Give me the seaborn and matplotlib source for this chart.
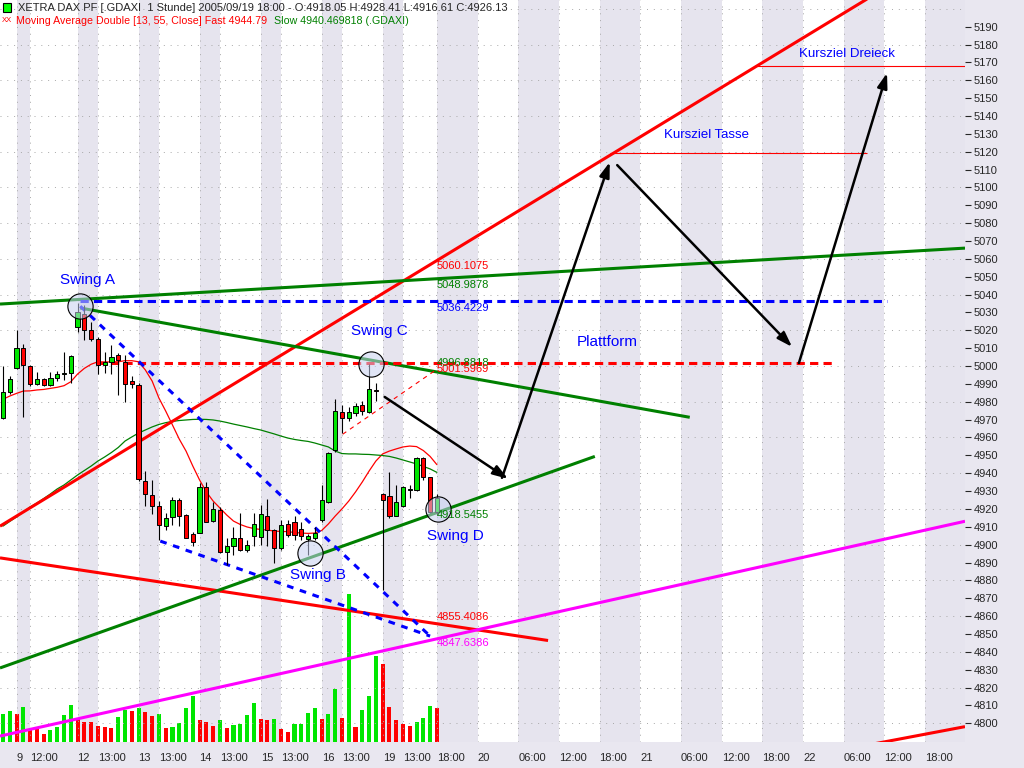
import numpy as np
import pandas as pd
import matplotlib
matplotlib.use("Agg")
import matplotlib.pyplot as plt
from matplotlib.patches import Rectangle
import seaborn as sns

sns.set_style("white")
plt.rcParams['font.family'] = ['Liberation Sans', 'DejaVu Sans']

# hourly DAX bars, bar index 0..64 (2005/09/08 17:00 .. 2005/09/19 18:00)
opens = [4971.0, 4985.7, 4998.9, 5010.0, 5000.1, 4990.0, 4992.7, 4989.6, 4993.3, 4995.6,
         4996.0, 5022.0, 5029.0, 5020.2, 5015.2, 5000.7, 5002.2, 5006.3, 5002.5, 4991.4,
         4989.5, 4935.8, 4927.9, 4921.4, 4910.7, 4915.7, 4925.1, 4916.6, 4906.1, 4906.8,
         4932.3, 4913.5, 4919.4, 4895.9, 4899.0, 4903.7, 4897.1, 4904.9, 4904.2, 4916.2,
         4908.3, 4898.1, 4911.6, 4912.9, 4908.7, 4903.1, 4904.0, 4913.8, 4923.8, 4953.0,
         4974.0, 4970.9, 4973.7, 4978.1, 4974.0, 4986.8, 4928.5, 4927.4, 4916.1, 4921.9,
         4930.7, 4930.8, 4948.4, 4937.8, 4918.05]
highs = [4999.8, 4994.2, 5020.3, 5012.5, 5000.7, 4996.6, 4993.3, 4996.6, 4997.5, 5008.1,
         5006.0, 5035.4, 5034.0, 5024.7, 5016.0, 5007.9, 5011.8, 5007.2, 5006.3, 4994.2,
         4990.6, 4941.0, 4936.3, 4924.2, 4917.6, 4926.4, 4926.0, 4917.0, 4907.3, 4934.4,
         4934.8, 4924.1, 4921.3, 4903.7, 4909.6, 4917.6, 4902.7, 4917.6, 4922.2, 4925.5,
         4908.5, 4913.8, 4913.8, 4916.1, 4912.9, 4906.0, 4910.1, 4933.4, 4952.1, 4981.5,
         4978.3, 4976.9, 4979.3, 4980.2, 5001.4, 4990.5, 4929.0, 4940.4, 4933.5, 4932.6,
         4933.5, 4949.0, 4949.3, 4937.9, 4928.41]
lows = [4970.4, 4984.4, 4998.5, 4971.5, 4988.9, 4989.2, 4988.9, 4988.6, 4991.8, 4992.3,
        4990.5, 5019.0, 5014.6, 5014.0, 4995.7, 4996.2, 4995.7, 4984.0, 4979.6, 4987.6,
        4935.4, 4921.4, 4917.0, 4902.7, 4908.3, 4911.1, 4910.7, 4903.6, 4899.5, 4906.5,
        4912.5, 4912.4, 4895.3, 4888.8, 4894.0, 4896.2, 4896.0, 4899.0, 4899.9, 4899.0,
        4889.7, 4897.1, 4904.4, 4902.7, 4902.7, 4894.3, 4902.7, 4912.9, 4923.5, 4952.1,
        4962.5, 4969.4, 4971.8, 4972.7, 4973.7, 4980.7, 4874.7, 4914.8, 4915.8, 4921.0,
        4926.2, 4930.2, 4936.3, 4917.6, 4916.61]
closes = [4985.7, 4992.7, 5010.0, 5000.7, 4990.0, 4992.9, 4989.2, 4993.3, 4995.7, 4996.3,
          5005.7, 5030.0, 5020.0, 5015.2, 5000.7, 5002.2, 5005.0, 5003.5, 4990.0, 4990.0,
          4936.7, 4928.3, 4921.7, 4911.1, 4914.8, 4925.1, 4916.2, 4904.0, 4901.4, 4932.0,
          4912.6, 4919.8, 4895.9, 4899.0, 4903.7, 4897.1, 4899.9, 4911.6, 4917.0, 4908.3,
          4898.1, 4911.1, 4905.5, 4905.5, 4904.7, 4904.9, 4906.8, 4925.1, 4951.2, 4974.6,
          4970.9, 4974.0, 4977.8, 4974.6, 4987.2, 4986.3, 4924.8, 4915.8, 4923.9, 4932.0,
          4931.0, 4948.4, 4937.8, 4918.1, 4926.13]
volumes = [2830, 3100, 2830, 3530, 1200, 1270, 830, 1200, 1530, 2700,
           3700, 2370, 2030, 2030, 1600, 1530, 1430, 2530, 3200, 3100,
           3430, 3030, 2600, 2830, 1430, 1530, 1930, 3430, 4600, 2230,
           2030, 1600, 2200, 1430, 1700, 1770, 2700, 3930, 2330, 2230,
           2330, 1330, 1000, 1830, 1830, 2930, 3430, 2330, 2830, 5270,
           2430, 14830, 1530, 3200, 4600, 8600, 7830, 3500, 2230, 1830,
           1600, 2030, 2430, 3600, 3430]
vol_dir = "ggrgrrrggg" "grrrrrrggr" "grrgrggggr" "rrgrggggrr" "grrggggrgg" "rgrgggrrrr" "rgggr"

ma_fast = [4981.4, 4983.2, 4984.7, 4986.0, 4986.1, 4986.6, 4986.9, 4987.5, 4988.1, 4989.0,
           4991.2, 4995.5, 4998.7, 5001.0, 5002.4, 5002.3, 5002.3, 5002.4, 5003.0, 5003.0,
           5002.4, 4997.8, 4991.6, 4982.1, 4974.8, 4967.0, 4959.1, 4952.4, 4944.0, 4936.2,
           4929.5, 4924.4, 4920.5, 4916.6, 4913.2, 4911.3, 4909.9, 4909.0, 4908.5, 4908.2,
           4907.6, 4907.4, 4907.3, 4906.8, 4906.5, 4906.3, 4906.5, 4907.9, 4911.6, 4916.0,
           4920.0, 4924.4, 4929.5, 4935.1, 4941.2, 4946.8, 4950.8, 4952.4, 4953.6, 4954.7,
           4955.2, 4954.9, 4952.7, 4949.4, 4944.8]
ma_slow = [4910.4, 4913.0, 4915.5, 4918.3, 4921.1, 4923.3, 4925.8, 4928.4, 4931.2, 4933.4,
           4936.2, 4939.0, 4941.5, 4944.0, 4946.8, 4949.1, 4951.6, 4954.4, 4958.0, 4960.3,
           4962.5, 4964.2, 4965.9, 4967.3, 4968.3, 4969.0, 4969.5, 4969.8, 4970.1, 4970.2,
           4970.1, 4969.8, 4969.2, 4968.4, 4967.5, 4966.7, 4965.9, 4965.0, 4964.2, 4963.1,
           4962.0, 4960.8, 4959.7, 4958.9, 4958.3, 4957.8, 4956.9, 4955.8, 4954.7, 4952.4,
           4951.0, 4950.8, 4950.8, 4950.6, 4950.5, 4950.2, 4949.9, 4949.4, 4948.5, 4947.4,
           4946.3, 4945.2, 4943.8, 4942.4, 4940.47]

# x axis: bar index, future part goes on one bar per hour
tick_pos = [2, 4, 11, 14, 20, 23, 29, 32, 38, 41, 47, 50, 56, 59, 64,
            70, 76, 82, 88, 94, 100, 106, 112, 118, 124, 130, 136]
tick_lbl = ["9", "12:00", "12", "13:00", "13", "13:00", "14", "13:00", "15", "13:00",
            "16", "13:00", "19", "13:00", "18:00", "20", "06:00", "12:00", "18:00",
            "21", "06:00", "12:00", "18:00", "22", "06:00", "12:00", "18:00"]

# drawn trend lines: (bar start, price start, bar end, price end)
red_channel = (-0.44, 4910.35, 130.0, 5211.4)
red_falling = (-0.44, 4892.59, 80.4, 4846.33)
red_bottom = (127.0, 4787.4, 141.9, 4798.1)
green_top = (-0.44, 5034.71, 141.9, 5066.03)
green_falling = (11.4, 5032.5, 101.3, 4971.3)
green_rising = (-0.44, 4830.95, 87.3, 4949.4)
magenta_rising = (-0.44, 4792.81, 141.9, 4913.09)
blue_level = (11.4, 5036.42, 130.4, 5036.42)
plattform = (13.9, 5001.60, 122.4, 5001.60)
wedge_upper = (11.4, 5033.5, 63.0, 4848.8)
wedge_lower = (23.2, 4902.0, 63.0, 4848.8)
swing_c_support = (50.1, 4961.8, 64.0, 4998.2)
target_tasse = (89.5, 5119.1, 127.4, 5119.1)
target_dreieck = (111.2, 5168.0, 141.9, 5168.0)

# forecast path (arrows)
arrow_from = [(56.3, 4982.7), (73.6, 4937.4), (90.6, 5112.5), (117.4, 5001.7)]
arrow_to = [(74.5, 4936.8), (89.5, 5114.2), (116.4, 5010.7), (130.4, 5164.1)]

# swing points
swing_x = [11.4, 45.3, 54.3, 64.2]
swing_p = [5033.5, 4895.3, 5001.3, 4919.9]

BG = "#e9e7f0"
STRIPE = "#e6e4ee"
GREEN = "#008000"
LIME = "#00e600"

idx = np.arange(len(closes))
df = pd.DataFrame({"bar": idx, "fast": ma_fast, "slow": ma_slow})

fig = plt.figure(figsize=(10.24, 7.68), dpi=100)
fig.patch.set_facecolor(BG)
pos = [0, 26 / 768, 965 / 1024, 742 / 768]
vax = fig.add_axes(pos, zorder=0)
ax = fig.add_axes(pos, zorder=1)
ax.patch.set_alpha(0)

xmin, xmax = -0.44, 141.9
ymin, ymax = 4789.5, 5204.95

# background stripes + volume
vax.set_facecolor("white")
edges = tick_pos + [xmax]
for k in range(0, len(tick_pos), 2):
    vax.axvspan(edges[k], edges[k + 1], color=STRIPE, lw=0, zorder=0)
vax.set_xlim(xmin, xmax)
vax.set_ylim(0, max(volumes) * 5.0)
vcol = [LIME if d == "g" else "red" for d in vol_dir]
vax.bar(idx, volumes, width=0.6, color=vcol, lw=0, zorder=2)
vax.set_xticks([])
vax.set_yticks([])
for s in vax.spines.values():
    s.set_visible(False)

# dotted grid
for lvl in range(4800, 5205, 20):
    ax.axhline(lvl, color="#a8a8a8", lw=0.7, ls=(0, (1, 6)), zorder=0)
for t in tick_pos:
    ax.axvline(t, color="#a8a8a8", lw=0.7, ls=(0, (1, 6)), zorder=0)

# moving averages
sns.lineplot(data=df, x="bar", y="fast", ax=ax, color="red", lw=0.9, zorder=2)
sns.lineplot(data=df, x="bar", y="slow", ax=ax, color=GREEN, lw=0.9, zorder=2)

# trend lines
def seg(line, **kw):
    ax.plot([line[0], line[2]], [line[1], line[3]], solid_capstyle="butt", **kw)

seg(red_channel, color="red", lw=2.2, zorder=3)
seg(red_falling, color="red", lw=2.2, zorder=3)
seg(red_bottom, color="red", lw=2.2, zorder=3)
seg(green_top, color=GREEN, lw=2.2, zorder=3)
seg(green_falling, color=GREEN, lw=2.2, zorder=3)
seg(green_rising, color=GREEN, lw=2.2, zorder=3)
seg(magenta_rising, color="#ff00ff", lw=2.2, zorder=3)
seg(blue_level, color="blue", lw=2.2, ls=(0, (2.7, 1.7)), zorder=3)
seg(plattform, color="red", lw=2.2, ls=(0, (2.7, 1.7)), zorder=3)
seg(wedge_upper, color="blue", lw=2.2, ls=(0, (2.2, 2.2)), zorder=3)
seg(wedge_lower, color="blue", lw=2.2, ls=(0, (2.2, 2.2)), zorder=3)
seg(swing_c_support, color="red", lw=0.8, ls=(0, (4, 4)), zorder=3)
seg(target_tasse, color="red", lw=0.8, zorder=3)
seg(target_dreieck, color="red", lw=0.8, zorder=3)

# candles
ax.vlines(idx, lows, highs, color="black", lw=0.8, zorder=4)
o = np.array(opens)
c = np.array(closes)
body = np.maximum(np.abs(c - o), 0.3)
ccol = [LIME if cc >= oo else "red" for oo, cc in zip(o, c)]
ax.bar(idx, body, bottom=np.minimum(o, c), width=0.62, color=ccol,
       edgecolor="black", lw=0.7, zorder=5)

# forecast arrows
for a, b in zip(arrow_from, arrow_to):
    ax.annotate("", xy=b, xytext=a,
                arrowprops=dict(arrowstyle="-|>,head_length=0.9,head_width=0.3",
                                color="black", lw=1.8, shrinkA=0, shrinkB=0),
                zorder=6)

# swing circles
ax.scatter(swing_x, swing_p, s=330, facecolor=(0.78, 0.82, 0.94, 0.55),
           edgecolor="black", lw=0.8, zorder=7)

lab = dict(color="blue", fontsize=11, ha="center", va="center", zorder=8)
ax.text(12.4, 5048.1, "Swing A", **lab)
ax.text(46.5, 4883.1, "Swing B", **lab)
ax.text(55.5, 5019.6, "Swing C", **lab)
ax.text(66.7, 4905.1, "Swing D", **lab)
ax.text(89.1, 5013.5, "Plattform", **lab)
ax.text(103.8, 5129.4, "Kursziel Tasse", color="blue", fontsize=9.5, ha="center", va="center")
ax.text(124.5, 5174.7, "Kursziel Dreieck", color="blue", fontsize=9.5, ha="center", va="center")

# value labels next to the lines
vals = [("5060.1075", 5058.8, "red"), ("5048.9878", 5048.2, GREEN),
        ("5036.4229", 5035.3, "blue"), ("4996.8818", 5004.5, GREEN),
        ("5001.5969", 5001.1, "red"), ("4918.5455", 4919.4, GREEN),
        ("4855.4086", 4862.3, "red"), ("4847.6386", 4847.8, "#ff00ff")]
for txt, p, col in vals:
    ax.text(64.0, p, txt, color=col, fontsize=8, ha="left", va="top", zorder=8)

# axes
ax.set_xlim(xmin, xmax)
ax.set_ylim(ymin, ymax)
ax.yaxis.tick_right()
ax.set_yticks(np.arange(4800, 5191, 10))
ax.set_xticks(tick_pos)
ax.set_xticklabels(tick_lbl, ha="left")
ax.tick_params(axis="y", direction="out", length=4, width=0.8, pad=2, labelsize=8)
ax.tick_params(axis="x", direction="out", length=4, width=0.8, pad=4, labelsize=8)
ax.set_xlabel("")
ax.set_ylabel("")
for s in ax.spines.values():
    s.set_visible(False)

# header
fig.patches.append(Rectangle((3 / 1024, 1 - 12 / 768), 8 / 1024, 9 / 768,
                             transform=fig.transFigure, facecolor="#00ff00",
                             edgecolor="black", lw=0.8))
fig.text(18 / 1024, 1 - 8 / 768,
         "XETRA DAX PF [.GDAXI  1 Stunde] 2005/09/19 18:00 - O:4918.05 H:4928.41 L:4916.61 C:4926.13",
         fontsize=8, va="center", ha="left")
fig.text(2 / 1024, 1 - 21 / 768, "XX", color="red", fontsize=5.5, va="center", ha="left")
fig.text(16 / 1024, 1 - 21 / 768, "Moving Average Double [13, 55, Close] Fast 4944.79",
         color="red", fontsize=7.7, va="center", ha="left")
fig.text(274 / 1024, 1 - 21 / 768, "Slow 4940.469818 (.GDAXI)",
         color=GREEN, fontsize=7.7, va="center", ha="left")

fig.savefig("out.png", dpi=100, facecolor=fig.get_facecolor())
